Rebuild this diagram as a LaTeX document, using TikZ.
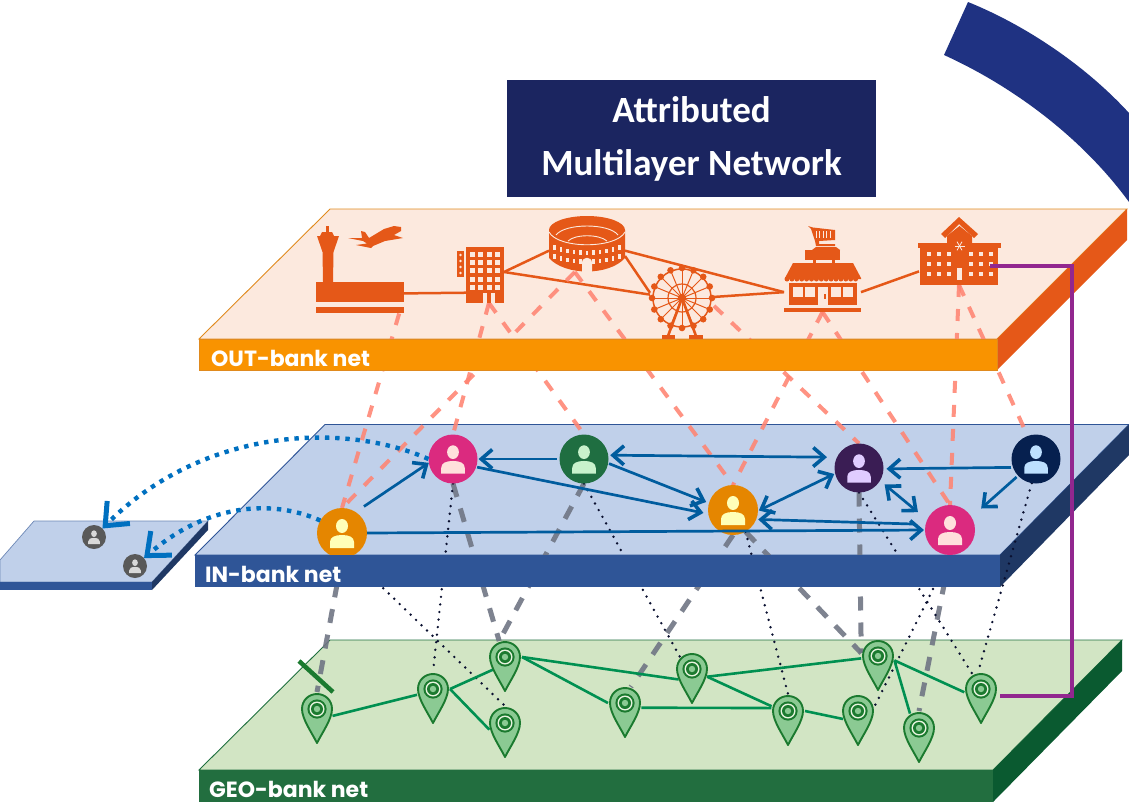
\documentclass[tikz,border=0pt]{standalone}
\usepackage{fontspec}
\setmainfont{Carlito}
\newfontfamily\labf{Poppins}
\usetikzlibrary{arrows.meta}
\pgfdeclarelayer{planes}\pgfdeclarelayer{edges}\pgfdeclarelayer{bands}\pgfdeclarelayer{top}
\pgfsetlayers{planes,edges,main,bands,top}
\definecolor{outT}{HTML}{FCE9DE}\definecolor{outE}{HTML}{E08A1E}\definecolor{outB}{HTML}{F99300}\definecolor{ico}{HTML}{E55818}
\definecolor{inT}{HTML}{C0D0EA}\definecolor{inE}{HTML}{2F5597}\definecolor{inS}{HTML}{1F3864}
\definecolor{geoT}{HTML}{D2E5C4}\definecolor{geoE}{HTML}{1F6F3F}\definecolor{geoB}{HTML}{226E3F}\definecolor{geoS}{HTML}{0A5A30}
\definecolor{arcC}{HTML}{1F3282}\definecolor{titleC}{HTML}{1B2560}
\definecolor{salm}{HTML}{FF8472}\definecolor{grayd}{HTML}{707684}\definecolor{dotc}{HTML}{0A1030}
\definecolor{arrC}{HTML}{005C9E}\definecolor{dotb}{HTML}{0070C0}\definecolor{gedge}{HTML}{009051}
\definecolor{pinD}{HTML}{1B7A2F}\definecolor{pinL}{HTML}{8BCA93}\definecolor{pinP}{HTML}{E8F3DF}\definecolor{purp}{HTML}{92278F}
\definecolor{uOr}{HTML}{E58600}\definecolor{uOrI}{HTML}{FFFFB8}
\definecolor{uPk}{HTML}{DB2A7F}\definecolor{uPkI}{HTML}{FFE0DC}
\definecolor{uGr}{HTML}{1F6E41}\definecolor{uGrI}{HTML}{C8F2CC}
\definecolor{uPu}{HTML}{3A1D54}\definecolor{uPuI}{HTML}{E0CCFF}
\definecolor{uNv}{HTML}{06204F}\definecolor{uNvI}{HTML}{BDE0FF}
\definecolor{uGy}{HTML}{595959}\definecolor{uGyI}{HTML}{D9D9D9}
\tikzset{
  x=1pt,y=-1pt,
  usrnode/.style={circle,inner sep=0pt,outer sep=0pt},
  pinnode/.style={circle,inner sep=0pt,outer sep=1.5pt,minimum size=31pt},
  iconbox/.style={rectangle,inner sep=0pt,outer sep=0pt},
  band label/.style={anchor=base west,text=white,font=\labf\bfseries\fontsize{22}{24}\selectfont,inner sep=0pt},
  outedge/.style={draw=salm,line width=4pt,opacity=.88,dash pattern=on 12pt off 12pt},
  grayedge/.style={draw=grayd,line width=5pt,opacity=.9,dash pattern=on 14pt off 12pt},
  dotedge/.style={draw=dotc,line width=2.7pt,line cap=round,dash pattern=on 0pt off 7.6pt},
  iconedge/.style={draw=ico,line width=2.5pt},
  geoedge/.style={draw=gedge,line width=2.6pt},
  sol/.style={draw=arrC,line width=2.7pt,-{Straight Barb[length=11pt,width=19pt,line width=3.6pt]}},
  bi/.style={draw=arrC,line width=2.7pt,{Straight Barb[length=11pt,width=19pt,line width=3.6pt]}-{Straight Barb[length=11pt,width=19pt,line width=3.6pt]}},
  dotarrow/.style={draw=dotb,line width=4.4pt,dash pattern=on 4.4pt off 5.8pt,-{Straight Barb[length=19pt,width=32pt,line width=5pt]}},
  purple link/.style={draw=purp,line width=4.6pt,miter limit=10},
}
\newcommand\usr[6]{%
  \node[usrnode,fill=#5,minimum size=#4*2pt] (#1) at (#2,#3) {};
  \begin{scope}[shift={(#2,#3)},scale=#4/25]
    \fill[#6] (0,-7) ellipse [x radius=6,y radius=7];
    \fill[#6] (-12,15) -- (-12,9) .. controls (-12,4) and (-7,2) .. (0,2) .. controls (7,2) and (12,4) .. (12,9) -- (12,15) -- cycle;
  \end{scope}}
\newcommand\mypin[3]{%
  \node[pinnode] (#1) at (#2,#3) {};
  \begin{scope}[shift={(#2,#3)}]
    \path[draw=pinD,fill=pinL,line width=1.9pt,line join=round] (0,34) .. controls (-5,24) and (-15,10) .. (-15,0) .. controls (-15,-9) and (-8,-15) .. (0,-15) .. controls (8,-15) and (15,-9) .. (15,0) .. controls (15,10) and (5,24) .. (0,34) -- cycle;
    \fill[pinD] (0,0) circle (9.6pt);
    \fill[pinP] (0,0) circle (7.5pt);
    \fill[pinD] (0,0) circle (6pt);
    \fill[pinL] (0,0) circle (3.2pt);
  \end{scope}}
\begin{document}
\begin{tikzpicture}
\useasboundingbox (0,0) rectangle (1129,804);

% ---------- planes
\begin{pgfonlayer}{planes}
  \fill[arcC] (968,2) .. controls (1025,25) and (1085,65) .. (1129,113) -- (1129,202) .. controls (1080,135) and (1010,85) .. (944,55) -- cycle;
  \filldraw[fill=outT,draw=outE,line width=.9pt] (199,339) -- (330,209) -- (1127,209) -- (997,339) -- cycle;
  \fill[ico] (997,339) -- (1127,209) -- (1127,240) -- (997,370) -- cycle;
  \filldraw[fill=inT,draw=inE,line width=.9pt] (195,555) -- (325,424.5) -- (1129,424.5) -- (1000,555) -- cycle;
  \fill[inS] (1000,555) -- (1129,424.5) -- (1129,455) -- (1000,587) -- cycle;
  \filldraw[fill=geoT,draw=geoE,line width=.9pt] (199,770) -- (330,640) -- (1122,640) -- (993,770) -- cycle;
  \fill[geoS] (993,770) -- (1122,640) -- (1122,671) -- (993,802) -- cycle;
  \filldraw[fill=inT,draw=inE!70,line width=.7pt] (34,521) -- (208,521) -- (152,582) -- (0,582) -- (0,560) -- cycle;
  \fill[inS] (152,582) -- (208,521) -- (208,530) -- (152,590) -- cycle;
\end{pgfonlayer}

% ---------- title
\node[fill=titleC,text=white,align=center,minimum width=369pt,minimum height=117pt,inner sep=0pt,font=\bfseries\fontsize{37}{53}\selectfont] (title) at (691.5,138.5) {Attributed\\Multilayer Network};

% ---------- icon nodes
\node[iconbox,minimum width=88pt,minimum height=87pt] (air) at (360,270) {};
\node[iconbox,minimum width=38pt,minimum height=56pt] (hot) at (485,275) {};
\node[iconbox,minimum width=76pt,minimum height=44pt] (col) at (587,250) {};
\node[iconbox,minimum width=64pt,minimum height=72pt] (fer) at (682,302) {};
\node[iconbox,minimum width=77pt,minimum height=86pt] (shp) at (822.5,269) {};
\node[iconbox,minimum width=80pt,minimum height=68pt] (sch) at (959,251) {};

% airport
\fill[ico] (325.5,226) rectangle (329,232);
\fill[ico] (322,232) -- (332,232) -- (334,236) -- (339,236) -- (333.5,252) -- (333,282) -- (323,282) -- (322.5,252) -- (317,236) -- (320,236) -- cycle;
\fill[ico] (316,282) rectangle (404,302);
\fill[ico] (316,307) rectangle (404,313);
\fill[ico] (361,231) -- (365,232) -- (369,238) -- (384,229) -- (394,226) -- (401,227) -- (401,231) -- (394,235) -- (403,238) -- (385,241) -- (373,246) -- (371,248) -- (356,245) -- (367,243.5) -- (363,241) -- (348,238) -- (362,238) -- cycle;
% hotel
\fill[ico] (466,247) rectangle (504,303);
\foreach \cx in {470,478.3,486.7,495}{\foreach \cy in {251.7,260,268.2,276.6,285}{\fill[outT] (\cx,\cy) rectangle +(5,5);}}
\fill[outT] (483,293) rectangle (486.5,303);
\fill[outT] (491,293) rectangle (494.5,303);
\fill[ico] (457,251) rectangle (464,277);
\foreach \cy in {255,261,267,273}{\fill[outT] (460.5,\cy) circle (1.4pt);}
% colosseum
\fill[ico] (549,230) -- (549,258) .. controls (565,276) and (609,276) .. (625,258) -- (625,230) -- cycle;
\fill[ico] (587,230) ellipse [x radius=38,y radius=14];
\draw[outT,line width=.9pt] (549,232) .. controls (558,249) and (616,249) .. (625,232);
\draw[outT,line width=.9pt] (556,235) .. controls (565,223) and (609,223) .. (618,235);
\draw[outT,line width=.9pt] (568,241) .. controls (575,234) and (599,234) .. (607,241);
\foreach \i in {-5,...,5}{
  \pgfmathsetmacro\xx{587+6.5*\i}
  \pgfmathsetmacro\yy{244+6.5*(1-(\i/5.5)^2)}
  \fill[outT] ({\xx-1.2},\yy) rectangle +(2.4,4.6);
  \fill[outT] ({\xx-1.2},{\yy+9}) rectangle +(2.4,4.6);
}
\fill[outT] (582,273) -- (582,263) .. controls (582,256) and (592,256) .. (592,263) -- (592,273) -- cycle;
% ferris wheel
\draw[ico,line width=1.5pt] (682,298) circle (29pt);
\draw[ico,line width=1.2pt] (682,298) circle (14pt);
\foreach \a in {0,22.5,...,337.5}{
  \draw[ico,line width=1pt] (682,298) -- +(\a:29);
  \fill[ico] (682,298) ++(\a:30) circle (3.3pt);
}
\fill[ico] (682,298) circle (4.2pt);
\draw[ico,line width=2.6pt] (668,336) -- (682,298) -- (696,336);
\fill[ico] (662,335) rectangle (675,338.5);
\fill[ico] (689,335) rectangle (703,338.5);
% shop
\fill[ico] (808,226) -- (813,227.5) -- (835,230) -- (835,240) -- (819,241) -- (819,244) -- (835,244) -- (835,246) -- (816,246) -- (815,241) -- (811,229) -- cycle;
\foreach \cx in {816,819.5,823,826.5,830}{\draw[outT,line width=.6pt] (\cx,231) -- (\cx,238);}
\fill[ico] (812,250) -- (816,247) -- (836,247) -- (840,250) -- cycle;
\fill[ico] (805,250) rectangle (840,260);
\fill[ico] (813,260) rectangle (816,264);
\fill[ico] (832,260) rectangle (835,264);
\fill[ico] (793,263) -- (853,263) -- (861,278) -- (861,279) -- (785,279) -- (785,278) -- cycle;
\foreach \cx in {787,791.9,...,860}{\fill[ico] (\cx,279) circle (2.5pt);}
\fill[ico] (789,283) rectangle (857,305);
\foreach \cx/\cw in {793/10,805/10,831/9.5,843/10}{\fill[outT] (\cx,287) rectangle +(\cw,10);}
\fill[outT] (818,287) rectangle (827.5,305);
\fill[ico] (824,294) rectangle (826,299);
\fill[ico] (784,308) rectangle (861,312);
% school
\fill[ico] (920,246) rectangle (998,285);
\fill[ico] (918,243) rectangle (1001,248);
\fill[ico] (947,243) -- (947,236) -- (959.5,226) -- (972,236) -- (972,243) -- cycle;
\fill[ico] (941,234) -- (959,217) -- (978,234) -- (974,238) -- (959,224) -- (945,238) -- cycle;
\foreach \cx in {926.7,936.7,946.7,969.3,979.3,989.3}{\foreach \cy in {252,262,272}{\fill[outT] (\cx,\cy) rectangle +(4,4);}}
\fill[outT] (957,268) rectangle (962,280);
\foreach \a in {0,60,120}{\draw[outT,line width=.8pt] (959.5,246) ++(\a:5) -- +(\a+180:10);}

% ---------- user nodes
\usr{uA}{342}{533}{25}{uOr}{uOrI}
\usr{uB}{453}{459}{24.5}{uPk}{uPkI}
\usr{uC}{584}{459}{24.5}{uGr}{uGrI}
\usr{uD}{733}{510}{25}{uOr}{uOrI}
\usr{uE}{859}{468}{24.5}{uPu}{uPuI}
\usr{uF}{950}{530}{25}{uPk}{uPkI}
\usr{uG}{1036}{459}{24.5}{uNv}{uNvI}
\usr{sA}{94}{537}{12}{uGy}{uGyI}
\usr{sB}{135}{566}{12}{uGy}{uGyI}

% ---------- pins
\mypin{pA}{317}{709}
\mypin{pB}{433}{689}
\mypin{pC}{505}{657}
\mypin{pD}{505}{723}
\mypin{pE}{625}{703}
\mypin{pF}{692}{669}
\mypin{pG}{788}{711}
\mypin{pH}{858}{711}
\mypin{pI}{878}{656}
\mypin{pJ}{919}{728}
\mypin{pK}{981}{689}

% ---------- edges under nodes, over planes
\begin{pgfonlayer}{edges}
  % OUT layer links
  \draw[iconedge] (air.332.4) -- (hot.223.5);
  \draw[iconedge] (hot.9) -- (col.181);
  \draw[iconedge] (hot.9) -- (fer.167.7);
  \draw[iconedge] (col.359) -- (shp.211);
  \draw[iconedge] (col.351) -- (fer.164);
  \draw[iconedge] (fer.9) -- (shp.211);
  \draw[iconedge] (shp.329) -- (sch.207.7);
  % OUT to IN
  \draw[outedge] (air.312) -- (uA.north);
  \draw[outedge] (hot.278) -- (uB.north);
  \draw[outedge] (hot.278) -- (uC.north);
  \draw[outedge] (col.241) -- (uA.north);
  \draw[outedge] (col.241) -- (uD.north);
  \draw[outedge] (fer.353) -- (uE.north);
  \draw[outedge] (shp.south) -- (uD.north);
  \draw[outedge] (shp.south) -- (uF.north);
  \draw[outedge] (sch.south) -- (uF.north);
  \draw[outedge] (sch.south) -- (uG.110);
  % IN to GEO
  \draw[grayedge] (uA.south) -- (pA.north);
  \draw[grayedge] (uB.south) -- (pC.110);
  \draw[grayedge] (uC.south) -- (pC.110);
  \draw[grayedge] (uD.south) -- (pE.70);
  \draw[grayedge] (uD.300) -- (pI.170);
  \draw[grayedge] (uE.south) -- (pI.170);
  \draw[grayedge] (uF.south) -- (pJ.north);
  \draw[dotedge] (uB.south) -- (pB.north);
  \draw[dotedge] (uA.290) -- (pD.north);
  \draw[dotedge] (uC.south) -- (pF.135);
  \draw[dotedge] (uD.300) -- (pG.north);
  \draw[dotedge] (uE.south) -- (pK.120);
  \draw[dotedge] (uF.south) -- (pH.15);
  \draw[dotedge] (uG.260) -- (pK.100);
  % GEO links
  \draw[geoedge] (pA.336) -- (pB.200);
  \draw[geoedge] (pB.0) -- (pC.227);
  \draw[geoedge] (pB.0) -- (pD.203);
  \draw[geoedge] (pC.0) -- (pF.218);
  \draw[geoedge] (pC.0) -- (pE.180);
  \draw[geoedge] (pE.344) -- (pG.170);
  \draw[geoedge] (pF.333) -- (pI.188);
  \draw[geoedge] (pF.333) -- (pG.164);
  \draw[geoedge] (pG.0) -- (pH.208);
  \draw[geoedge] (pI.345) -- (pJ.122);
  \draw[geoedge] (pI.345) -- (pK.191);
\end{pgfonlayer}

% ---------- IN layer arrows
\draw[sol,shorten <=10pt] (uA.57) -- (uB.189);
\draw[sol,shorten <=3pt,shorten >=1pt] (uC.180) -- (uB.0);
\draw[sol,shorten <=1pt,shorten >=5pt] (uB.341) -- (uD.189);
\draw[sol,shorten <=1pt,shorten >=3pt] (uC.350) -- (uD.164);
\draw[bi,shorten <=2pt,shorten >=10pt] (uC.9) -- (uE.154);
\draw[sol,shorten >=1pt] (uA.0) -- (uF.180);
\draw[sol,shorten <=12pt,shorten >=2pt] (uF.167) -- (uD.338);
\draw[bi,shorten <=1pt,shorten >=1pt] (uD.358) -- (uE.193);
\draw[bi,shorten <=6pt,shorten >=12pt] (uE.329) -- (uF.156);
\draw[sol,shorten <=2pt,shorten >=3pt] (uG.200) -- (uE.358);
\draw[sol,shorten <=2pt,shorten >=13pt] (uG.223) -- (uF.31);
\draw[dotarrow] (uB.west) .. controls (340,420) and (200,430) .. (sA);
\draw[dotarrow] (uA.150) .. controls (270,498) and (205,505) .. (sB);

% small mark on the GEO plane
\coordinate (tickA) at (299,661);
\coordinate (tickB) at (333,692);
\draw[pinD,line width=4.5pt] (tickA) -- (tickB);

% ---------- bands
\begin{pgfonlayer}{bands}
  \filldraw[fill=outB,draw=outE,line width=.6pt] (199,339) rectangle (997,370.5);
  \fill[inE] (195,555) rectangle (1000,587);
  \fill[geoB] (199,770) rectangle (993,802);
  \fill[inE] (0,582) rectangle (152,590);
  \node[band label] (outL) at (211,366) {OUT-bank net};
  \node[band label] (inL) at (205,582) {IN-bank net};
  \node[band label] (geoL) at (209,797) {GEO-bank net};
\end{pgfonlayer}

% ---------- purple link
\begin{pgfonlayer}{top}
  \coordinate (purA) at (990,266);
  \coordinate (purM) at (1072,480);
  \coordinate (purB) at (1000,696);
  \draw[purple link] (purA) -| (purM) |- (purB);
\end{pgfonlayer}
\end{tikzpicture}
\end{document}
